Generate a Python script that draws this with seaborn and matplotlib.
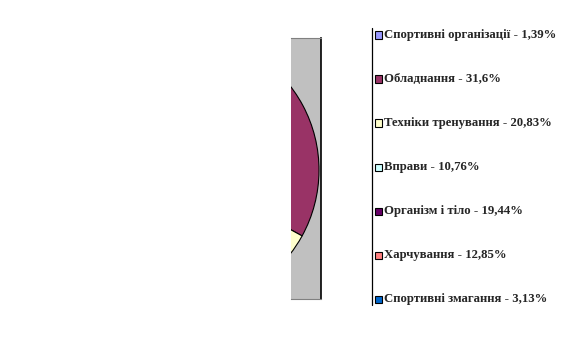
import matplotlib
matplotlib.use("Agg")
import matplotlib.pyplot as plt
from matplotlib.patches import Rectangle
from matplotlib.lines import Line2D
import seaborn as sns

categories = ["Спортивні організації", "Обладнання", "Техніки тренування", "Вправи",
              "Організм і тіло", "Харчування", "Спортивні змагання"]
values = [1.39, 31.6, 20.83, 10.76, 19.44, 12.85, 3.13]
value_labels = ["1,39%", "31,6%", "20,83%", "10,76%", "19,44%", "12,85%", "3,13%"]
colors = ["#9999FF", "#993366", "#FFFFCC", "#CCFFFF", "#660066", "#FF8080", "#0066CC"]

sns.set_style("white")
palette = sns.color_palette(colors)

W, H = 584, 340
fig = plt.figure(figsize=(W / 100, H / 100), dpi=100)

def fx(px):
    return px / W

def fy(py):
    return 1 - py / H

# plot area (clipped view of a large pie)
left_px, right_px, top_px, bot_px = 291, 321, 38, 299
ax = fig.add_axes([fx(left_px), fy(bot_px), fx(right_px) - fx(left_px), fy(top_px) - fy(bot_px)])
wedges, _ = ax.pie(values, colors=palette, startangle=90, counterclock=False,
                   wedgeprops=dict(edgecolor="black", linewidth=0.8))
cx, cy, r = 182, 170, 137
ax.set_aspect("auto")
ax.set_xlim((left_px - cx) / r, (right_px - cx) / r)
ax.set_ylim((cy - bot_px) / r, (cy - top_px) / r)
ax.set_facecolor("#C0C0C0")
ax.set_frame_on(True)
for w in wedges:
    w.set_clip_on(True)
    w.set_clip_path(ax.patch)
for side, sp in ax.spines.items():
    sp.set_visible(True)
ax.spines["left"].set_visible(False)
ax.spines["right"].set_color("black")
ax.spines["right"].set_linewidth(1.2)
ax.spines["top"].set_color("#808080")
ax.spines["bottom"].set_color("#808080")
ax.set_xticks([])
ax.set_yticks([])

# legend
fig.add_artist(Line2D([fx(372), fx(372)], [fy(28), fy(305)], color="black", linewidth=0.9))
font = dict(family=["Liberation Serif", "DejaVu Serif"], weight="bold", size=9.2)
for i, (cat, lab) in enumerate(zip(categories, value_labels)):
    yc = 35 + 44 * i
    fig.add_artist(Rectangle((fx(375), fy(yc + 3.5)), fx(6.5), 7 / H,
                             facecolor=palette[i], edgecolor="black", linewidth=0.8))
    fig.text(fx(383.5), fy(yc), f"{cat} - {lab}", ha="left", va="center", **font)

fig.savefig("out.png", dpi=100)
